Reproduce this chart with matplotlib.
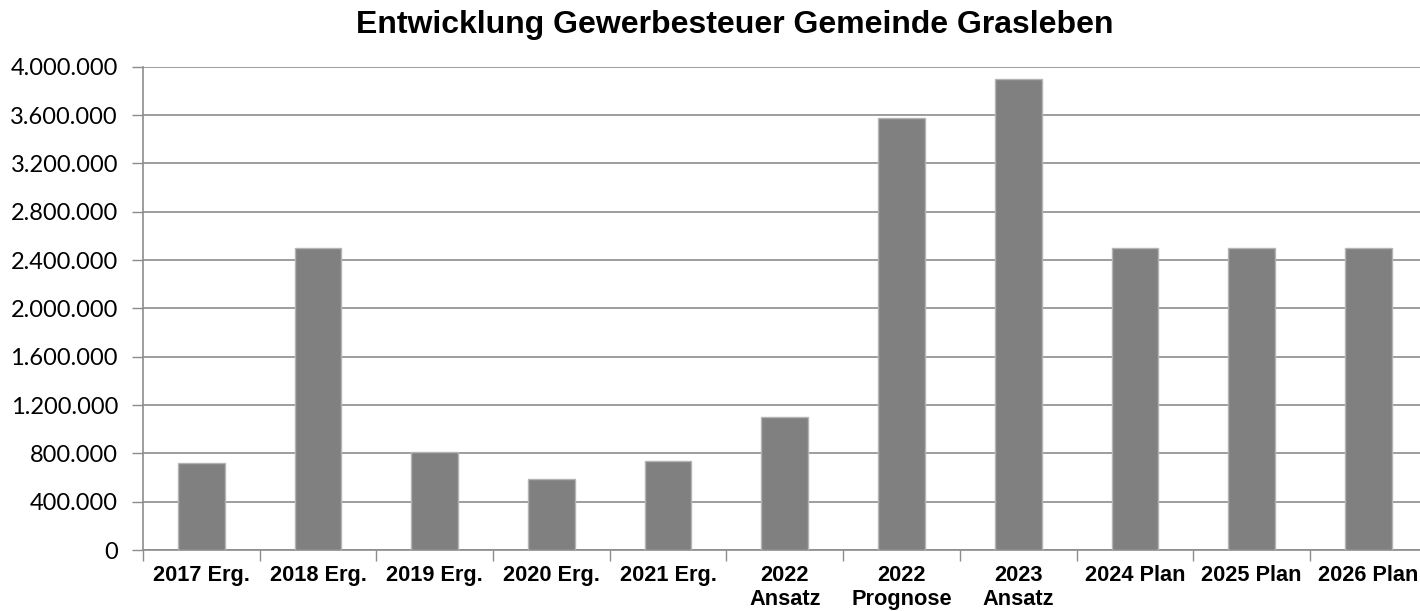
import matplotlib.pyplot as plt
from matplotlib.ticker import FuncFormatter, FixedLocator
import numpy as np

# ---------------------
# Data
# ---------------------
categories = ['2017 Erg.', '2018 Erg.', '2019 Erg.', '2020 Erg.', '2021 Erg.',
              '2022\nAnsatz', '2022\nPrognose', '2023\nAnsatz',
              '2024 Plan', '2025 Plan', '2026 Plan']
values = [722000, 2503000, 808000, 584000, 734000,
          1097000, 3573000, 3900000, 2500000, 2500000, 2500000]
y_ticks = [0, 400000, 800000, 1200000, 1600000, 2000000,
           2400000, 2800000, 3200000, 3600000, 4000000]

title = 'Entwicklung Gewerbesteuer Gemeinde Grasleben'

# ---------------------
# Plot
# ---------------------
fig = plt.figure(figsize=(14.2, 6.11), dpi=100)
ax = fig.add_axes([0.1007, 0.0998, 0.904, 0.791])

x = np.arange(len(categories))
ax.bar(x, values, width=0.4, color='#808080', edgecolor='#b4b4b4', linewidth=1, zorder=3)

ax.set_xlim(-0.5, len(categories) - 0.5)
ax.set_ylim(0, 4000000)

# gridlines
ax.set_yticks(y_ticks)
ax.yaxis.grid(True, color='#8c8c8c', linewidth=1.2, zorder=0)
ax.set_axisbelow(True)

def de_fmt(v, pos):
    return '{:,.0f}'.format(v).replace(',', '.')

ax.yaxis.set_major_formatter(FuncFormatter(de_fmt))
ax.tick_params(axis='y', length=8, width=1, color='#8c8c8c', pad=10,
               labelsize=17, direction='out')
for lab in ax.get_yticklabels():
    lab.set_fontfamily('Lato')

# x labels at centres, tick marks at category boundaries
ax.set_xticks(x)
ax.set_xticklabels(categories, fontfamily='Liberation Sans', fontweight='bold',
                   fontsize=15.7, linespacing=1.15, va='top')
ax.tick_params(axis='x', which='major', length=0, pad=11)
ax.xaxis.set_minor_locator(FixedLocator(np.arange(-0.5, len(categories), 1.0)))
ax.tick_params(axis='x', which='minor', length=8, width=1, color='#8c8c8c', direction='out')

for s in ['top', 'right']:
    ax.spines[s].set_visible(False)
ax.spines['left'].set_color('#8c8c8c')
ax.spines['bottom'].set_color('#8c8c8c')
ax.spines['left'].set_linewidth(1.2)
ax.spines['bottom'].set_linewidth(1.2)

fig.text(735 / 1420, 1 - 25 / 611, title, ha='center', va='center',
         fontfamily='Liberation Sans', fontweight='bold', fontsize=23)

plt.savefig('out.png', dpi=100)
